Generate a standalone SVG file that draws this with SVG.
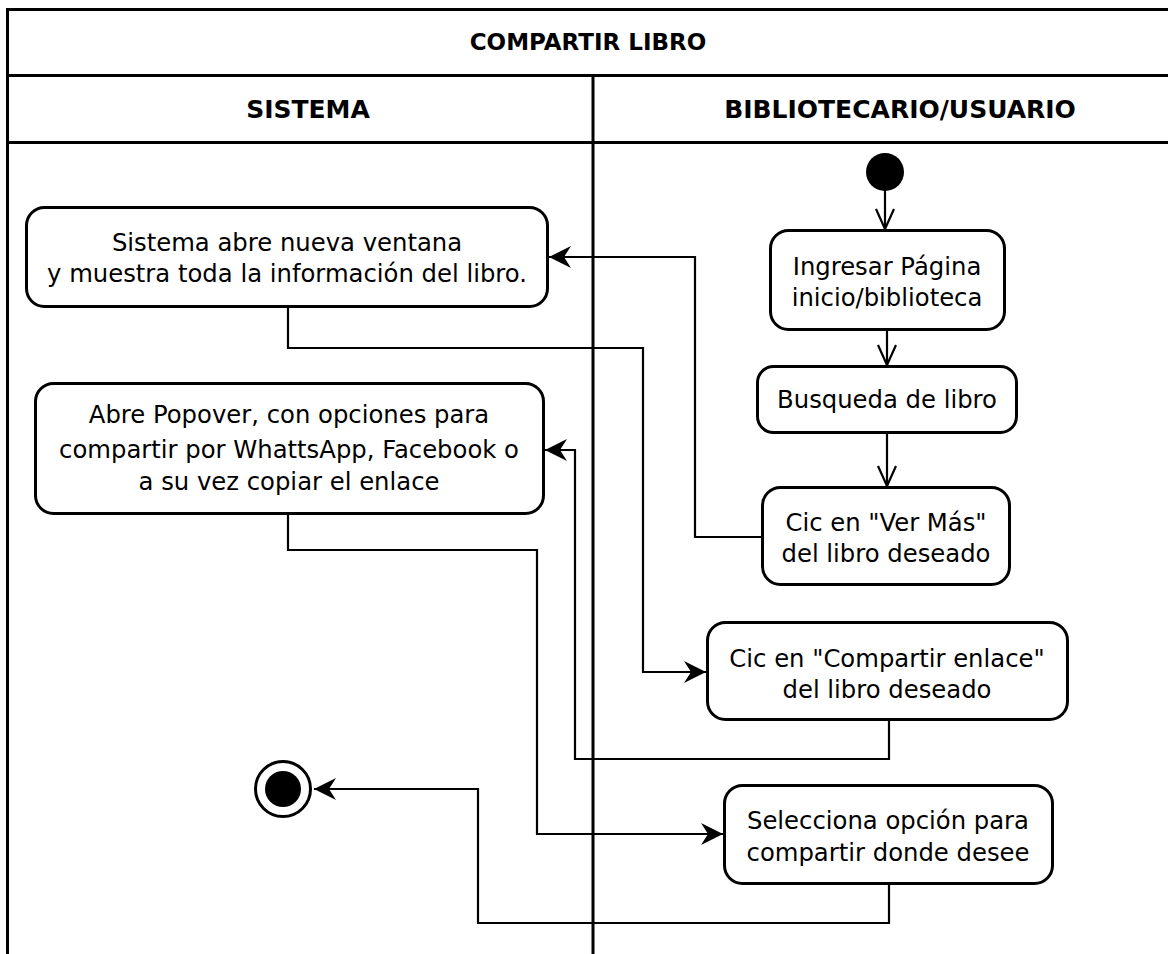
<svg xmlns="http://www.w3.org/2000/svg" width="1168" height="954" viewBox="0 0 1168 954">
<style>
.frame{fill:none;stroke:#000;stroke-width:3}
.node{fill:#fff;stroke:#000;stroke-width:3}
.t{font-family:"DejaVu Sans",sans-serif;font-size:24.3px;fill:#000;text-anchor:middle}
.h{font-family:"DejaVu Sans",sans-serif;font-weight:bold;font-size:25px;fill:#000;text-anchor:middle}
.ti{font-family:"DejaVu Sans",sans-serif;font-weight:bold;font-size:23px;fill:#000;text-anchor:middle}
.c{fill:none;stroke:#000;stroke-width:2.2}
</style>
<defs>
<marker id="fill" viewBox="0 0 24 24" refX="23" refY="12" markerWidth="24" markerHeight="24" markerUnits="userSpaceOnUse" orient="auto">
<path d="M1,1 L23,12 L1,23 L8,12 Z" fill="#000"/>
</marker>
<marker id="open" viewBox="0 0 22 24" refX="11" refY="23" markerWidth="22" markerHeight="24" markerUnits="userSpaceOnUse" orient="0">
<path d="M2,3 L11,23 L20,3" fill="none" stroke="#000" stroke-width="2.2"/>
</marker>
</defs>
<rect width="1168" height="954" fill="#fff"/>
<g id="frame">
<line class="frame" x1="7.5" y1="9.5" x2="1170" y2="9.5"/>
<line class="frame" x1="7.5" y1="8" x2="7.5" y2="954"/>
<line class="frame" x1="7.5" y1="75.5" x2="1170" y2="75.5"/>
<line class="frame" x1="7.5" y1="142.5" x2="1170" y2="142.5"/>
<line class="frame" x1="593" y1="75.5" x2="593" y2="954"/>
<text class="ti" x="588" y="50">COMPARTIR LIBRO</text>
<text class="h" x="308" y="118">SISTEMA</text>
<text class="h" x="900" y="118">BIBLIOTECARIO/USUARIO</text>
</g>
<g id="connectors">
<line class="c" x1="885" y1="190" x2="885" y2="229" marker-end="url(#open)"/>
<line class="c" x1="887" y1="331" x2="887" y2="365" marker-end="url(#open)"/>
<line class="c" x1="887" y1="433" x2="887" y2="486" marker-end="url(#open)"/>
<path class="c" d="M762,537 H695 V257 H549" marker-end="url(#fill)"/>
<path class="c" d="M288,308 V348 H643 V672 H706" marker-end="url(#fill)"/>
<path class="c" d="M889,721 V759 H575 V450 H545" marker-end="url(#fill)"/>
<path class="c" d="M288,515 V550 H537 V834 H723" marker-end="url(#fill)"/>
<path class="c" d="M889,885 V923 H478 V789 H314" marker-end="url(#fill)"/>
</g>
<g id="start"><circle cx="885" cy="172" r="19" fill="#000"/></g>
<g id="end"><circle cx="283" cy="789" r="27.5" fill="#fff" stroke="#000" stroke-width="3"/><circle cx="283" cy="789" r="18" fill="#000"/></g>
<g id="n_ingresar"><rect class="node" x="770.5" y="230.5" width="234" height="99" rx="18"/><text class="t" x="887" y="275">Ingresar Página</text><text class="t" x="887" y="306">inicio/biblioteca</text></g>
<g id="n_busqueda"><rect class="node" x="757.5" y="366.5" width="259" height="66" rx="16"/><text class="t" x="887" y="408">Busqueda de libro</text></g>
<g id="n_vermas"><rect class="node" x="762.5" y="487.5" width="247" height="97" rx="18"/><text class="t" x="886" y="531">Cic en "Ver Más"</text><text class="t" x="886" y="562">del libro deseado</text></g>
<g id="n_compartir"><rect class="node" x="707.5" y="622.5" width="360" height="97" rx="18"/><text class="t" x="887" y="667">Cic en "Compartir enlace"</text><text class="t" x="887" y="698">del libro deseado</text></g>
<g id="n_selecciona"><rect class="node" x="724.5" y="785.5" width="328" height="98" rx="18"/><text class="t" x="888" y="829">Selecciona opción para</text><text class="t" x="888" y="861">compartir donde desee</text></g>
<g id="n_sistema"><rect class="node" x="26.5" y="207.5" width="521" height="99" rx="18"/><text class="t" x="287" y="251">Sistema abre nueva ventana</text><text class="t" x="287" y="282">y muestra toda la información del libro.</text></g>
<g id="n_popover"><rect class="node" x="35.5" y="383.5" width="508" height="130" rx="18"/><text class="t" x="289" y="423">Abre Popover, con opciones para</text><text class="t" x="289" y="458">compartir por WhattsApp, Facebook o</text><text class="t" x="289" y="490">a su vez copiar el enlace</text></g>
</svg>
